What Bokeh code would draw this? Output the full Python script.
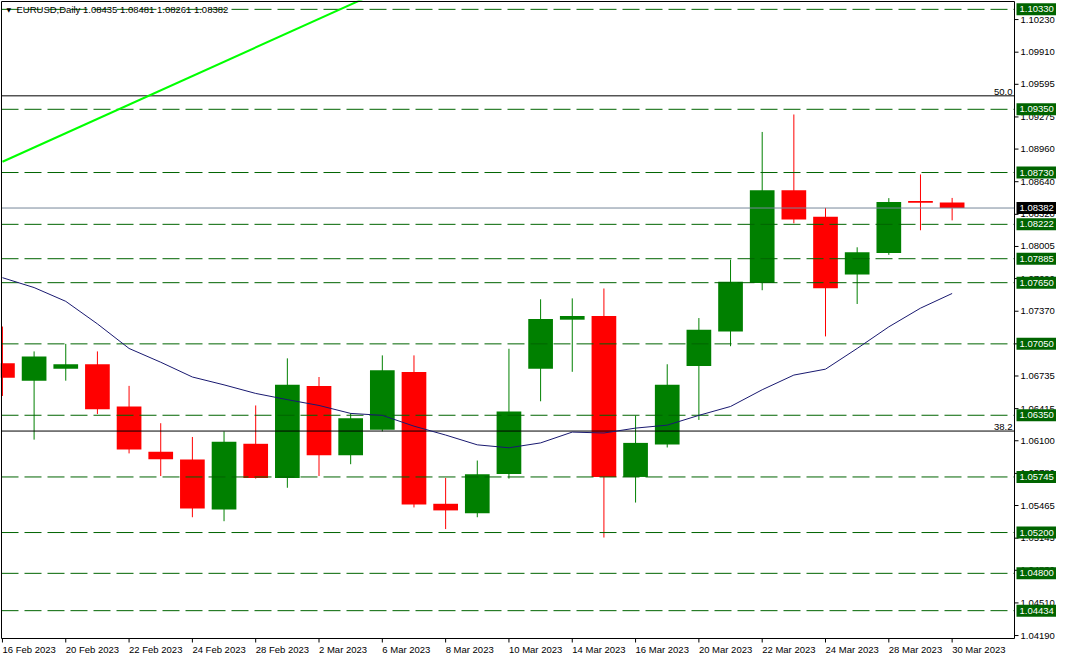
from bokeh.plotting import figure
from bokeh.models import Range1d, ColumnDataSource
from bokeh.core.properties import value
from bokeh.embed import file_html
from bokeh.resources import INLINE

# ---------------- data ----------------
dates = ["16 Feb 2023", "17 Feb 2023", "20 Feb 2023", "21 Feb 2023", "22 Feb 2023",
         "23 Feb 2023", "24 Feb 2023", "27 Feb 2023", "28 Feb 2023", "1 Mar 2023",
         "2 Mar 2023", "3 Mar 2023", "6 Mar 2023", "7 Mar 2023", "8 Mar 2023",
         "9 Mar 2023", "10 Mar 2023", "13 Mar 2023", "14 Mar 2023", "15 Mar 2023",
         "16 Mar 2023", "17 Mar 2023", "20 Mar 2023", "21 Mar 2023", "22 Mar 2023",
         "23 Mar 2023", "24 Mar 2023", "27 Mar 2023", "28 Mar 2023", "29 Mar 2023",
         "30 Mar 2023"]

opens = [1.06860, 1.06689, 1.06805, 1.06850, 1.06436, 1.05992, 1.05915, 1.05427,
         1.06070, 1.05735, 1.06638, 1.05957, 1.06207, 1.06773, 1.05482, 1.05388,
         1.05774, 1.06805, 1.07287, 1.07323, 1.05745, 1.06063, 1.06834, 1.07171,
         1.07647, 1.08556, 1.08296, 1.07730, 1.07942, 1.08450, 1.08435]
highs = [1.07220, 1.06976, 1.07050, 1.06976, 1.06638, 1.06272, 1.06137, 1.06192,
         1.06446, 1.06908, 1.06725, 1.06371, 1.06937, 1.06937, 1.05735, 1.05906,
         1.07002, 1.07487, 1.07496, 1.07593, 1.06346, 1.06850, 1.07303, 1.07875,
         1.09128, 1.09299, 1.08383, 1.07997, 1.08479, 1.08711, 1.08481]
lows = [1.06539, 1.06111, 1.06689, 1.06362, 1.05976, 1.05754, 1.05350, 1.05311,
        1.05729, 1.05639, 1.05754, 1.05870, 1.06192, 1.05446, 1.05234, 1.05350,
        1.05729, 1.06487, 1.06776, 1.05151, 1.05494, 1.06034, 1.06304, 1.07027,
        1.07576, 1.08232, 1.07123, 1.07441, 1.07923, 1.08164, 1.08261]
closes = [1.06718, 1.06927, 1.06850, 1.06410, 1.06015, 1.05918, 1.05436, 1.06089,
          1.05735, 1.06648, 1.05957, 1.06320, 1.06792, 1.05475, 1.05417, 1.05771,
          1.06388, 1.07294, 1.07323, 1.05745, 1.06079, 1.06648, 1.07188, 1.07660,
          1.08556, 1.08270, 1.07595, 1.07949, 1.08441, 1.08434, 1.08382]

ma_values = [1.07699, 1.07602, 1.07467, 1.07246, 1.07005, 1.06870, 1.06725, 1.06648,
             1.06564, 1.06503, 1.06446, 1.06368, 1.06349, 1.06243, 1.06156, 1.06060,
             1.06031, 1.06079, 1.06185, 1.06176, 1.06224, 1.06253, 1.06349, 1.06436,
             1.06600, 1.06744, 1.06802, 1.07005, 1.07217, 1.07400, 1.07544]

levels = [1.10330, 1.09350, 1.08730, 1.08222, 1.07885, 1.07650, 1.07050,
          1.06350, 1.05745, 1.05200, 1.04800, 1.04434]
fib_levels = [1.09482, 1.06195]
fib_labels = ["50.0", "38.2"]
trend_x = [0, 12]
trend_y = [1.08836, 1.10517]
last_price = 1.08382
header_text = "EURUSD,Daily  1.08435 1.08481 1.08261 1.08382"

y_ticks = [1.10230, 1.09910, 1.09595, 1.09275, 1.08960, 1.08640, 1.08320, 1.08005,
           1.07690, 1.07370, 1.07050, 1.06735, 1.06415, 1.06100, 1.05780, 1.05465,
           1.05145, 1.04830, 1.04510, 1.04190]
tick_idx = list(range(0, len(dates), 2))
tick_labels = [dates[i] for i in tick_idx]

# ---------------- layout ----------------
FONT = value("Liberation Sans")
FS = "9.5px"
GREEN = "#008000"
RED = "#FF0000"
LVL = "#006400"

W, H = 1056, 655          # canvas
CW, CH = 1013, 637        # price-chart box, px
XL, XR = -0.03, 31.97     # chart box in bar units
YT, YB = 1.10407, 1.04161 # chart box in price units
ppx = CW / (XR - XL)
ppy = CH / (YT - YB)

p = figure(width=W, height=H,
           x_range=Range1d(XL - 1 / ppx, XL + (W - 1) / ppx),
           y_range=Range1d(YT - (H - 1) / ppy, YT + 1 / ppy),
           x_axis_location=None, y_axis_location=None,
           output_backend="svg", toolbar_location=None, min_border=0)
p.grid.visible = False
p.outline_line_color = None
p.background_fill_color = "white"
p.border_fill_color = "white"

xs = list(range(len(dates)))
colors = [GREEN if c >= o else RED for o, c in zip(opens, closes)]
src = ColumnDataSource(dict(
    x=xs, high=highs, low=lows,
    top=[max(o, c) for o, c in zip(opens, closes)],
    bottom=[min(o, c) for o, c in zip(opens, closes)],
    color=colors))

# candles
p.segment(x0="x", y0="low", x1="x", y1="high", line_color="color", line_width=1, source=src)
p.vbar(x="x", width=0.78, top="top", bottom="bottom", fill_color="color",
       line_color=None, source=src)

# horizontal levels (inside the chart box)
n = len(levels)
p.segment(x0=[XL] * n, y0=levels, x1=[XR] * n, y1=levels,
          line_color=LVL, line_width=1, line_dash="17 6")
p.segment(x0=[XL] * len(fib_levels), y0=fib_levels, x1=[XR] * len(fib_levels),
          y1=fib_levels, line_color="black", line_width=1)
p.segment(x0=[XL], y0=[last_price], x1=[XR], y1=[last_price],
          line_color="#778899", line_width=1)

# moving average and trend line
p.line(xs, ma_values, line_color="#191970", line_width=1)
p.line(trend_x, trend_y, line_color="#00FF00", line_width=2)

# chart box
p.quad(left=[XL], right=[XR], top=[YT], bottom=[YB], fill_color=None,
       line_color="black", line_width=1)

# price axis (right)
tick_len = 4 / ppx
p.segment(x0=[XR] * len(y_ticks), y0=y_ticks, x1=[XR + tick_len] * len(y_ticks),
          y1=y_ticks, line_color="black", line_width=1)
p.text(x=[XR] * len(y_ticks), y=y_ticks, text=[f"{t:.5f}" for t in y_ticks],
       x_offset=6, text_baseline="middle", text_align="left",
       text_font=FONT, text_font_size=FS, text_color="black")

# level boxes on the price axis
box_w = 41
box_x = XR + (2 + box_w / 2) / ppx
p.rect(x=[box_x] * n, y=levels, width=box_w, height=12, width_units="screen",
       height_units="screen", fill_color=LVL, line_color=None)
p.text(x=[XR] * n, y=levels, text=[f"{v:.5f}" for v in levels], x_offset=5,
       text_baseline="middle", text_align="left", text_font=FONT,
       text_font_size=FS, text_color="white")
p.rect(x=[box_x], y=[last_price], width=box_w, height=12, width_units="screen",
       height_units="screen", fill_color="black", line_color=None)
p.text(x=[XR], y=[last_price], text=[f"{last_price:.5f}"], x_offset=5,
       text_baseline="middle", text_align="left", text_font=FONT,
       text_font_size=FS, text_color="white")

# time axis (bottom)
tick_h = 4 / ppy
p.segment(x0=tick_idx, y0=[YB] * len(tick_idx), x1=tick_idx,
          y1=[YB - tick_h] * len(tick_idx), line_color="black", line_width=1)
p.text(x=tick_idx, y=[YB] * len(tick_idx), text=tick_labels, x_offset=0, y_offset=5,
       text_baseline="top", text_align="left", text_font=FONT,
       text_font_size=FS, text_color="black")

# fibonacci labels
p.text(x=[XR] * len(fib_levels), y=fib_levels, text=fib_labels, x_offset=-2, y_offset=-1,
       text_align="right", text_baseline="bottom", text_font=FONT,
       text_font_size=FS, text_color="black")

# header
p.text(x=[XL], y=[levels[0]], text=["\u25BC"], x_offset=5, text_baseline="middle",
       text_font=value("DejaVu Sans"), text_font_size="6px", text_color="black")
p.text(x=[XL], y=[levels[0]], text=[header_text], x_offset=15, text_baseline="middle",
       text_font=FONT, text_font_size=FS, text_color="black")

open("out.html", "w").write(file_html(p, INLINE))
